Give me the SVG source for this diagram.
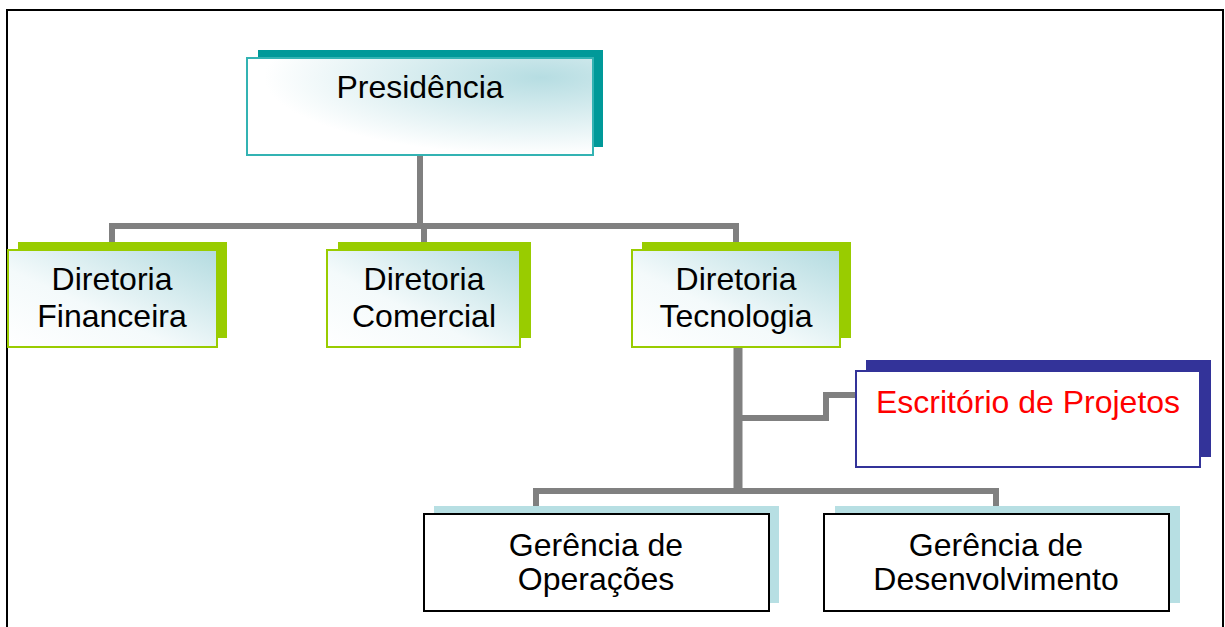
<svg xmlns="http://www.w3.org/2000/svg" width="1225" height="627" viewBox="0 0 1225 627">
<defs>
<linearGradient id="g" x1="0" y1="1" x2="1" y2="0">
<stop offset="0" stop-color="#ffffff"/>
<stop offset="0.4" stop-color="#f4fafb"/>
<stop offset="1" stop-color="#b3dbe0"/>
</linearGradient>
<radialGradient id="gp" cx="0.85" cy="0.2" r="0.8">
<stop offset="0" stop-color="#b6dde2"/>
<stop offset="1" stop-color="#ffffff"/>
</radialGradient>
</defs>
<style>
text{font-family:"Liberation Sans",Arial,sans-serif;font-size:32px;fill:#000;text-anchor:middle}
.con{fill:none;stroke:#808080;stroke-width:6;stroke-linejoin:miter;stroke-linecap:butt}
.dir{fill:url(#g);stroke:#99cc00;stroke-width:2}
.dsh{fill:#99cc00}
.ger{fill:#fff;stroke:#000;stroke-width:2}
.gsh{fill:#b7dfe3}
</style>
<rect x="7" y="10" width="1216" height="700" fill="none" stroke="#000" stroke-width="2"/>
<g id="connectors">
<path class="con" d="M420,155 V226"/>
<path class="con" d="M112,243 V226 H736 V243"/>
<path class="con" d="M424,226 V243"/>
<path class="con" d="M738,347 V491" style="stroke-width:9"/>
<path class="con" d="M742,418 H826 V395 H856"/>
<path class="con" d="M536,506 V491 H996 V506"/>
</g>
<g id="presidencia">
<rect x="258" y="50" width="345" height="97" fill="#009999"/>
<rect x="247" y="58" width="346" height="97" fill="url(#gp)" stroke="#33b3b3" stroke-width="2"/>
<text x="420" y="98">Presidência</text>
</g>
<g id="diretoria-financeira">
<rect class="dsh" x="18" y="242" width="209" height="96"/>
<rect class="dir" x="8" y="250" width="209" height="97"/>
<text x="112" y="290">Diretoria</text>
<text x="112" y="327">Financeira</text>
</g>
<g id="diretoria-comercial">
<rect class="dsh" x="338" y="242" width="193" height="96"/>
<rect class="dir" x="327" y="250" width="193" height="97"/>
<text x="424" y="290">Diretoria</text>
<text x="424" y="327">Comercial</text>
</g>
<g id="diretoria-tecnologia">
<rect class="dsh" x="642" y="242" width="209" height="96"/>
<rect class="dir" x="632" y="250" width="208" height="97"/>
<text x="736" y="290">Diretoria</text>
<text x="736" y="327">Tecnologia</text>
</g>
<g id="escritorio-projetos">
<rect x="866" y="360" width="345" height="97" fill="#333399"/>
<rect x="856" y="371" width="344" height="96" fill="#fff" stroke="#333399" stroke-width="2"/>
<text x="1028" y="413" style="fill:#ff0000">Escritório de Projetos</text>
</g>
<g id="gerencia-operacoes">
<rect class="gsh" x="434" y="506" width="345" height="97"/>
<rect class="ger" x="424" y="514" width="345" height="97"/>
<text x="596" y="556">Gerência de</text>
<text x="596" y="590">Operações</text>
</g>
<g id="gerencia-desenvolvimento">
<rect class="gsh" x="835" y="506" width="345" height="97"/>
<rect class="ger" x="824" y="514" width="345" height="97"/>
<text x="996" y="556">Gerência de</text>
<text x="996" y="590">Desenvolvimento</text>
</g>
</svg>
